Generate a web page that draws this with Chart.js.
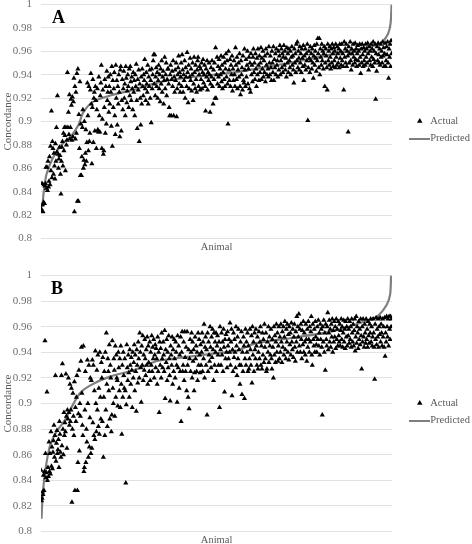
<!DOCTYPE html>
<html>
<head>
<meta charset="utf-8">
<title>Concordance</title>
<script src="https://cdn.jsdelivr.net/npm/chart.js@4"></script>
<style>
  html, body { margin: 0; padding: 0; background: #fff; overflow: hidden; }
  #page { position: relative; width: 472px; height: 544px; overflow: hidden; }
  canvas { position: absolute; left: 0; }
  #chartA { top: 0; }
  #chartB { top: 265px; }
  .panel { position: absolute; font: bold 18px "Liberation Serif", serif; color: #000; }
</style>
</head>
<body>
<div id="page">
  <canvas id="chartA" width="472" height="258"></canvas>
  <canvas id="chartB" width="472" height="290"></canvas>
  <div class="panel" style="left:52px;top:7px">A</div>
  <div class="panel" style="left:51px;top:278px">B</div>
</div>
<script>
const yTicks = [1, 0.98, 0.96, 0.94, 0.92, 0.9, 0.88, 0.86, 0.84, 0.82, 0.8];

// actual concordance by animal, in order of predicted value
const actualA = [
.826,.824,.847,.829,.823,.831,.846,.83,.845,.847,.861,.843,.861,.841,.866,.844,.849,.87,.846,.879,
.858,.909,.852,.883,.877,.855,.873,.862,.851,.881,.866,.895,.874,.922,.872,.86,.868,.878,.871,.855,
.838,.866,.878,.883,.862,.89,.875,.895,.888,.858,.895,.88,.884,.942,.895,.908,.889,.923,.885,.895,
.919,.914,.884,.921,.887,.917,.937,.823,.93,.885,.925,.89,.941,.832,.945,.832,.906,.877,.934,.854,
.898,.854,.87,.895,.91,.86,.867,.9,.863,.873,.893,.866,.882,.933,.905,.875,.93,.883,.89,.927,
.941,.915,.864,.912,.936,.882,.92,.925,.892,.93,.918,.877,.91,.928,.893,.891,.938,.905,.891,.922,
.933,.948,.877,.902,.927,.872,.875,.912,.936,.89,.93,.898,.943,.918,.925,.938,.908,.93,.915,.94,
.925,.896,.947,.879,.935,.912,.928,.942,.905,.889,.948,.92,.935,.897,.93,.915,.94,.925,.887,.944,
.947,.892,.918,.936,.91,.928,.943,.92,.932,.905,.947,.937,.916,.926,.94,.93,.912,.945,.922,.947,
.934,.918,.938,.928,.91,.942,.925,.935,.905,.94,.93,.949,.918,.894,.936,.927,.944,.883,.932,.92,
.897,.938,.915,.945,.93,.922,.94,.935,.953,.928,.918,.942,.932,.925,.948,.915,.938,.93,.944,.92,
.935,.899,.945,.928,.94,.952,.957,.932,.957,.922,.938,.946,.93,.942,.92,.935,.948,.928,.94,.917,
.945,.932,.952,.925,.938,.943,.915,.935,.955,.928,.94,.95,.922,.936,.945,.945,.932,.912,.905,.94,
.948,.905,.936,.943,.93,.952,.905,.938,.925,.944,.935,.95,.904,.928,.94,.946,.956,.932,.942,.925,
.938,.95,.93,.957,.944,.925,.94,.935,.952,.92,.946,.938,.93,.959,.942,.916,.948,.928,.938,.954,
.935,.945,.926,.94,.95,.918,.932,.955,.942,.928,.948,.936,.925,.944,.952,.955,.93,.94,.947,.927,
.945,.936,.95,.928,.942,.953,.933,.94,.948,.93,.909,.945,.938,.952,.927,.942,.935,.95,.94,.908,
.932,.946,.938,.952,.93,.915,.944,.936,.95,.92,.963,.92,.94,.955,.932,.947,.938,.953,.93,.945,
.94,.956,.934,.948,.928,.942,.955,.936,.95,.93,.945,.958,.938,.952,.932,.898,.96,.944,.935,.953,
.93,.948,.94,.956,.926,.945,.935,.952,.94,.93,.963,.948,.936,.955,.928,.944,.95,.938,.958,.93,
.923,.952,.94,.946,.927,.956,.935,.933,.962,.944,.93,.953,.938,.948,.96,.932,.945,.955,.928,.95,
.925,.958,.94,.948,.934,.955,.962,.942,.95,.936,.958,.945,.93,.954,.94,.962,.948,.935,.956,.942,
.95,.963,.936,.954,.945,.96,.938,.952,.942,.956,.934,.962,.948,.94,.958,.945,.938,.964,.95,.94,
.956,.946,.935,.96,.95,.942,.964,.935,.953,.946,.958,.94,.962,.948,.952,.938,.96,.944,.956,.965,
.94,.952,.962,.946,.958,.942,.955,.965,.948,.96,.944,.954,.938,.963,.95,.958,.942,.962,.952,.946,
.96,.94,.955,.964,.948,.956,.944,.933,.962,.95,.958,.942,.966,.952,.968,.946,.96,.954,.944,.964,
.95,.958,.942,.962,.954,.947,.965,.935,.956,.948,.962,.944,.958,.952,.966,.901,.946,.96,.954,.942,
.964,.952,.958,.945,.962,.95,.937,.956,.965,.948,.96,.954,.943,.966,.952,.971,.958,.946,.971,.94,
.962,.955,.948,.966,.952,.96,.945,.958,.964,.93,.95,.962,.956,.946,.927,.966,.952,.96,.948,.964,
.955,.945,.962,.95,.966,.958,.947,.963,.952,.96,.946,.966,.955,.948,.964,.958,.95,.962,.946,.966,
.954,.96,.948,.966,.952,.958,.947,.927,.968,.955,.962,.95,.966,.947,.96,.956,.891,.964,.95,.958,
.968,.952,.944,.962,.958,.948,.966,.955,.96,.95,.967,.953,.962,.947,.958,.965,.952,.96,.948,.966,
.955,.941,.962,.95,.966,.957,.947,.963,.952,.96,.948,.966,.955,.962,.95,.967,.958,.944,.964,.952,
.96,.948,.966,.955,.962,.947,.968,.953,.96,.95,.966,.919,.958,.943,.964,.952,.967,.957,.95,.962,
.948,.966,.955,.96,.95,.968,.956,.963,.947,.958,.967,.947,.952,.964,.957,.968,.95,.937,.962,.955,
.966,.947,.969,.958
];
const actualB = [
.848,.824,.826,.831,.829,.844,.832,.847,.949,.861,.842,.846,.909,.84,.85,.843,.87,.847,.861,.845,
.878,.851,.866,.849,.862,.871,.883,.858,.875,.922,.855,.869,.879,.861,.864,.872,.85,.886,.876,.862,
.858,.922,.867,.931,.88,.86,.893,.875,.885,.878,.923,.89,.865,.895,.888,.92,.893,.883,.915,.886,
.895,.912,.823,.88,.908,.89,.875,.917,.832,.897,.886,.905,.922,.832,.854,.892,.926,.863,.9,.89,
.933,.944,.908,.883,.875,.945,.847,.85,.895,.925,.854,.88,.87,.934,.9,.858,.93,.866,.889,.92,
.861,.918,.865,.934,.885,.93,.875,.91,.872,.941,.9,.878,.926,.895,.938,.882,.912,.876,.94,.905,
.888,.932,.92,.886,.936,.858,.905,.925,.875,.94,.895,.955,.915,.882,.935,.925,.91,.946,.888,.93,
.92,.878,.891,.949,.912,.9,.935,.926,.89,.945,.905,.938,.92,.918,.898,.94,.928,.91,.935,.897,
.945,.915,.876,.93,.905,.94,.922,.912,.935,.91,.838,.899,.946,.928,.918,.938,.924,.905,.942,.93,
.915,.936,.926,.897,.94,.92,.932,.946,.91,.938,.925,.894,.942,.93,.916,.948,.935,.92,.955,.94,
.928,.901,.945,.93,.953,.918,.938,.926,.95,.935,.922,.942,.93,.952,.915,.945,.932,.925,.948,.918,
.94,.93,.953,.925,.944,.935,.95,.92,.938,.946,.928,.943,.935,.915,.952,.925,.94,.893,.948,.93,
.943,.92,.955,.935,.928,.948,.938,.925,.957,.904,.942,.932,.95,.918,.94,.928,.953,.935,.922,.902,
.945,.938,.93,.952,.915,.942,.925,.95,.935,.92,.948,.94,.93,.901,.953,.928,.945,.912,.938,.925,
.952,.886,.94,.956,.925,.93,.948,.918,.956,.936,.925,.944,.91,.956,.93,.905,.942,.896,.935,.95,
.925,.94,.955,.92,.948,.933,.942,.91,.924,.952,.935,.945,.925,.94,.918,.955,.93,.95,.938,.924,
.946,.93,.94,.955,.925,.948,.935,.962,.92,.944,.952,.93,.942,.891,.955,.925,.948,.938,.933,.96,
.944,.928,.952,.936,.958,.942,.918,.955,.93,.948,.94,.955,.925,.945,.953,.938,.93,.948,.897,.96,
.942,.93,.955,.938,.948,.925,.958,.944,.909,.95,.935,.954,.94,.928,.956,.945,.935,.95,.94,.963,
.93,.948,.958,.906,.942,.925,.955,.936,.95,.94,.928,.96,.945,.922,.952,.935,.958,.942,.93,.915,
.948,.93,.956,.907,.94,.925,.952,.945,.904,.935,.958,.93,.948,.94,.955,.925,.945,.927,.935,.958,
.942,.93,.953,.916,.96,.938,.948,.925,.955,.942,.935,.958,.945,.93,.952,.927,.94,.956,.935,.948,
.96,.93,.945,.927,.955,.938,.95,.932,.962,.944,.935,.955,.925,.927,.948,.94,.96,.932,.952,.945,
.938,.958,.935,.927,.95,.944,.92,.96,.938,.953,.932,.948,.962,.94,.955,.933,.945,.96,.935,.952,
.94,.962,.948,.932,.956,.944,.96,.938,.952,.964,.942,.935,.958,.948,.962,.94,.954,.934,.96,.946,
.955,.938,.963,.948,.942,.958,.936,.952,.962,.944,.933,.956,.948,.968,.94,.96,.952,.97,.945,.958,
.94,.962,.95,.935,.957,.946,.964,.94,.955,.948,.938,.962,.95,.933,.958,.944,.964,.95,.94,.96,
.948,.956,.968,.938,.93,.962,.95,.945,.958,.94,.964,.952,.946,.94,.96,.95,.965,.945,.955,.938,
.962,.95,.958,.944,.891,.96,.948,.965,.94,.955,.926,.962,.95,.945,.96,.971,.942,.955,.965,.948,
.958,.944,.962,.952,.966,.94,.957,.948,.964,.952,.96,.943,.966,.95,.958,.945,.964,.953,.948,.962,
.945,.957,.966,.95,.96,.944,.955,.965,.948,.958,.943,.964,.952,.96,.945,.966,.953,.958,.947,.964,
.95,.96,.944,.966,.955,.948,.962,.945,.957,.966,.941,.952,.968,.947,.96,.955,.943,.964,.95,.958,
.946,.966,.953,.927,.96,.948,.966,.952,.944,.962,.955,.947,.966,.95,.958,.944,.964,.953,.947,.962,
.955,.966,.948,.96,.945,.952,.966,.955,.944,.919,.962,.95,.967,.946,.958,.952,.966,.944,.96,.954,
.967,.948,.962,.955,.945,.966,.952,.96,.944,.967,.937,.955,.948,.968,.96,.952,.966,.945,.968,.958,
.95,.968,.96,.966
];

// predicted curve, read at these animal positions
const predictedAnimalsA = [3,5,11,25,41,61,75,85,105,145,185,231,285,345,390,430,497,590,670,684,696,701,703];
const predictedA = [.827,.838,.855,.87,.88,.888,.897,.908,.917,.923,.927,.933,.937,.94,.942,.945,.95,.958,.965,.968,.975,.984,1];
const predictedAnimalsB = [1,3,8,18,31,48,61,78,98,138,185,231,285,345,390,430,500,590,663,677,693,700,702];
const predictedB = [.81,.826,.846,.867,.878,.887,.897,.908,.914,.921,.926,.933,.936,.939,.941,.947,.951,.957,.966,.969,.977,.985,1];

// legend key for the line: a plain grey bar, wider than the default box
const lineKey = document.createElement('canvas');
lineKey.width = 21;
lineKey.height = 2;
lineKey.getContext('2d').fillStyle = '#7f7f7f';
lineKey.getContext('2d').fillRect(0, 0, 21, 2);

// nudges the legend into its place without moving the plot
const placeLegend = {
    id: 'placeLegend',
    afterLayout(chart) {
        chart.legend.left = 407.5;
        chart.legend.right = 472;
        chart.legend.top += 1;
        chart.legend.bottom += 1;
    }
};

function drawPanel(id, actual, predAnimals, pred, padding) {
    new Chart(document.getElementById(id), {
        type: 'scatter',
        plugins: [placeLegend],
        data: {
            datasets: [{
                label: 'Actual',
                data: actual.map((v, i) => ({ x: i, y: v })),
                pointStyle: 'triangle',
                pointRadius: 3,
                backgroundColor: '#000',
                borderColor: '#000',
                borderWidth: 0
            }, {
                label: 'Predicted',
                data: pred.map((v, i) => ({ x: predAnimals[i], y: v })),
                showLine: true,
                pointStyle: lineKey,
                pointRadius: 0,
                borderColor: '#7f7f7f',
                backgroundColor: '#7f7f7f',
                borderWidth: 2.2,
                tension: 0.25
            }]
        },
        options: {
            responsive: false,
            animation: false,
            events: [],
            layout: { padding: padding },
            scales: {
                x: {
                    type: 'linear',
                    min: 0,
                    max: 704,
                    grid: { display: false, drawTicks: false },
                    border: { display: false },
                    ticks: { display: false },
                    title: {
                        display: true,
                        text: 'Animal',
                        color: '#595959',
                        padding: { top: 2, bottom: 0 },
                        font: { family: 'Liberation Serif', size: 10.5 }
                    }
                },
                y: {
                    min: 0.8,
                    max: 1,
                    afterBuildTicks: scale => { scale.ticks = yTicks.map(v => ({ value: v })); },
                    afterFit: scale => {
                        scale.width = 39;
                        scale.paddingTop = 0;
                        scale.paddingBottom = 0;
                    },
                    grid: { color: '#e2e2e2', drawTicks: false },
                    border: { display: false },
                    ticks: {
                        color: '#6e6e6e',
                        padding: 9,
                        font: { family: 'Liberation Serif', size: 11 },
                        callback: v => String(v)
                    },
                    title: {
                        display: true,
                        text: 'Concordance',
                        color: '#595959',
                        padding: 0,
                        font: { family: 'Liberation Serif', size: 11 }
                    }
                }
            },
            plugins: {
                tooltip: { enabled: false },
                legend: {
                    position: 'right',
                    labels: {
                        usePointStyle: true,
                        boxHeight: 4.5,
                        padding: 7,
                        color: '#595959',
                        font: { family: 'Liberation Serif', size: 10.5 }
                    }
                }
            }
        }
    });
}

drawPanel('chartA', actualA, predictedAnimalsA, predictedA, { top: 4.5, bottom: 4.8, left: 2, right: 7.5 });
drawPanel('chartB', actualB, predictedAnimalsB, predictedB, { top: 10.5, bottom: 8.8, left: 2, right: 7.5 });
</script>
</body>
</html>
